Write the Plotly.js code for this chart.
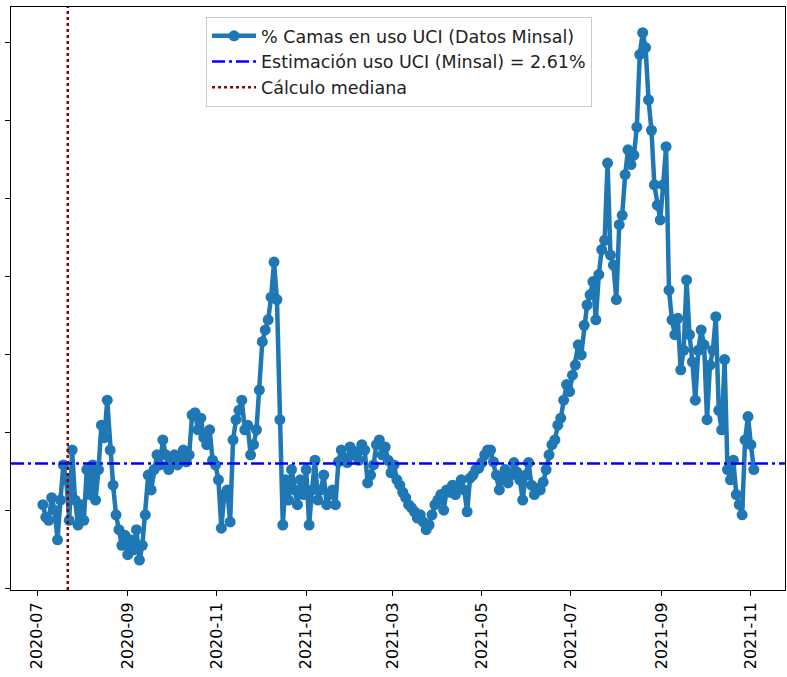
<!DOCTYPE html>
<html>
<head>
<meta charset="utf-8">
<script src="https://cdn.plot.ly/plotly-3.0.1.min.js"></script>
<style>html,body{margin:0;padding:0;background:#fff;}#chart{width:787px;height:677px;}</style>
</head>
<body>
<div id="chart"></div>
<script>
// Series: one reading every 2 days starting 2020-07-05
const startDate = '2020-07-05';
const stepDays = 2;
const ucIUsage = [
  2.08,1.92,1.88,2.17,2.01,1.63,2.14,2.59,2.40,1.88,
  2.78,2.14,1.82,2.08,1.88,2.53,2.21,2.59,2.14,2.53,
  3.10,2.94,3.42,2.78,2.33,1.95,1.76,1.56,1.69,1.44,
  1.63,1.50,1.76,1.37,1.56,1.95,2.46,2.27,2.53,2.72,
  2.59,2.91,2.72,2.53,2.65,2.72,2.59,2.65,2.78,2.63,
  2.72,3.23,3.26,3.04,3.19,2.94,2.85,3.04,2.65,2.59,
  2.40,1.78,2.21,2.27,1.86,2.91,3.17,3.29,3.42,3.04,
  3.10,2.72,2.85,3.04,3.55,4.17,4.32,4.45,4.74,5.19,
  4.71,3.17,1.82,2.40,2.14,2.53,2.27,2.08,2.40,2.21,
  2.53,1.82,2.27,2.65,2.14,2.27,2.46,2.08,2.21,2.27,
  2.08,2.63,2.78,2.68,2.62,2.82,2.72,2.76,2.65,2.85,
  2.78,2.36,2.46,2.59,2.85,2.91,2.72,2.82,2.65,2.49,
  2.59,2.40,2.33,2.24,2.17,2.08,2.04,1.99,1.91,1.95,
  1.86,1.76,1.82,1.95,2.08,2.14,2.21,2.01,2.27,2.24,
  2.33,2.21,2.33,2.40,2.27,1.99,2.42,2.46,2.53,2.55,
  2.62,2.72,2.78,2.78,2.63,2.46,2.27,2.42,2.53,2.36,
  2.46,2.62,2.50,2.40,2.14,2.46,2.62,2.33,2.21,2.29,
  2.27,2.37,2.53,2.72,2.85,2.91,3.10,3.19,3.42,3.62,
  3.53,3.74,3.87,4.13,4.00,4.38,4.64,4.77,4.94,4.45,
  5.03,5.35,5.47,6.46,5.28,5.15,4.71,5.67,5.79,6.31,
  6.63,6.44,6.56,6.92,7.85,8.13,7.94,7.27,6.88,6.18,
  5.92,5.73,6.18,6.67,4.83,4.45,4.26,4.47,3.81,4.06,
  4.96,4.26,3.91,3.42,4.06,4.32,4.13,3.17,3.87,4.06,
  4.49,3.29,3.04,3.94,2.53,2.40,2.65,2.21,2.08,1.95,
  2.91,3.21,2.85,2.53
];
const estimacion = 2.61;
const medianDate = '2020-07-22';
const xRange = ['2020-06-13 05:00', '2021-11-24 07:00'];
const yRange = [0.987, 8.46];
const seriesNames = ['% Camas en uso UCI (Datos Minsal)', 'Estimación uso UCI (Minsal) = 2.61%', 'Cálculo mediana'];

function addDays(s, n) {
  const d = new Date(s + 'T00:00:00Z');
  d.setUTCDate(d.getUTCDate() + n);
  return d.toISOString().slice(0, 10);
}
const dates = ucIUsage.map((_, i) => addDays(startDate, i * stepDays));

const traces = [
  {
    x: dates, y: ucIUsage, type: 'scatter', mode: 'lines+markers',
    name: seriesNames[0],
    line: {color: '#1f77b4', width: 4.5},
    marker: {color: '#1f77b4', size: 11}
  },
  {
    x: xRange, y: [estimacion, estimacion], type: 'scatter', mode: 'lines',
    name: seriesNames[1],
    line: {color: '#0000ff', width: 2.5, dash: '13px,4px,3px,4px'}
  },
  {
    x: [medianDate, medianDate], y: yRange, type: 'scatter', mode: 'lines',
    name: seriesNames[2],
    line: {color: '#8b0000', width: 2.5, dash: 'dot'}
  }
];

const layout = {
  width: 787, height: 677,
  margin: {l: 11, r: 2, t: 7, b: 87},
  paper_bgcolor: '#fff', plot_bgcolor: '#fff',
  font: {family: 'DejaVu Sans', size: 16, color: '#000'},
  showlegend: true,
  legend: {
    x: 0.252, y: 0.983, xanchor: 'left', yanchor: 'top',
    bgcolor: 'rgba(255,255,255,0.9)', bordercolor: '#cccccc', borderwidth: 1,
    font: {family: 'DejaVu Sans', size: 17.5, color: '#222'},
    itemwidth: 44,
    tracegroupgap: 0
  },
  xaxis: {
    type: 'date', range: xRange, tick0: '2020-07-01', dtick: 'M2',
    tickformat: '%Y-%m', tickangle: -90,
    ticks: 'outside', ticklen: 5, tickwidth: 1, tickcolor: '#000',
    showline: true, linecolor: '#000', linewidth: 1, mirror: true,
    showgrid: false, zeroline: false,
    tickfont: {family: 'DejaVu Sans', size: 16, color: '#000'}
  },
  yaxis: {
    range: yRange, tick0: 0, dtick: 1,
    ticks: 'outside', ticklen: 5, tickwidth: 1, tickcolor: '#000',
    showticklabels: false,
    showline: true, linecolor: '#000', linewidth: 1, mirror: true,
    showgrid: false, zeroline: false
  }
};

Plotly.newPlot('chart', traces, layout, {displayModeBar: false, staticPlot: true});
</script>
</body>
</html>
